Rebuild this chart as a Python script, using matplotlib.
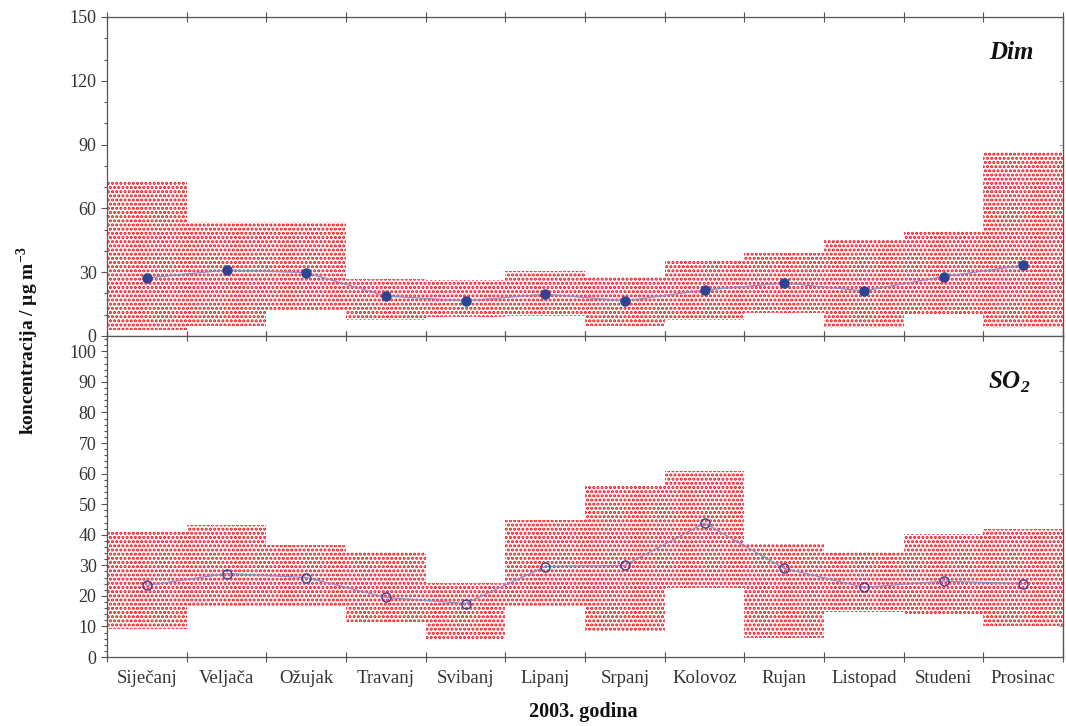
import numpy as np
import matplotlib
matplotlib.use("Agg")
import matplotlib.pyplot as plt
from matplotlib.ticker import MultipleLocator, FixedLocator, NullFormatter

plt.rcParams['font.family'] = ['Liberation Serif', 'DejaVu Serif']
plt.rcParams['mathtext.fontset'] = 'custom'
plt.rcParams['mathtext.rm'] = 'Liberation Serif'
plt.rcParams['hatch.color'] = '#e50f19'
plt.rcParams['hatch.linewidth'] = 1.5

months = ['Siječanj', 'Veljača', 'Ožujak', 'Travanj', 'Svibanj', 'Lipanj',
          'Srpanj', 'Kolovoz', 'Rujan', 'Listopad', 'Studeni', 'Prosinac']

# dim (smoke): monthly mean, min and max
dim_mean = [27.3, 31.0, 29.8, 18.8, 16.5, 19.7, 16.5, 21.6, 24.9, 21.2, 27.9, 33.2]
dim_min = [2.8, 4.7, 12.2, 7.5, 8.9, 9.4, 4.7, 7.5, 10.8, 3.8, 9.9, 3.8]
dim_max = [72.9, 53.6, 53.6, 27.0, 26.3, 30.6, 27.7, 35.7, 39.0, 45.6, 48.9, 86.3]

# SO2: monthly mean, min and max
so2_mean = [23.4, 27.3, 26.0, 19.5, 17.5, 29.6, 30.0, 43.8, 29.0, 22.8, 24.8, 24.0]
so2_min = [9.3, 16.4, 16.4, 11.3, 5.8, 16.2, 8.4, 22.5, 6.3, 14.7, 13.9, 10.2]
so2_max = [41.0, 43.3, 36.8, 34.2, 24.1, 44.8, 56.3, 60.9, 37.0, 34.2, 40.2, 41.9]

red = '#e50f19'
line_col = '#8c8cc8'
dot_col = '#2b4593'
spine_col = '#555555'
txt_col = '#333333'

fig = plt.figure(figsize=(10.66, 7.26), dpi=100)
ax1 = fig.add_axes([0.1004, 0.5372, 0.8968, 0.4394])
ax2 = fig.add_axes([0.1004, 0.0950, 0.8968, 0.4422])

x = np.arange(12) + 0.5


def draw_panel(ax, mean, lo, hi, filled):
    lo = np.array(lo)
    hi = np.array(hi)
    ax.bar(x, hi - lo, bottom=lo, width=1.0, facecolor='white',
           edgecolor=red, linewidth=0, hatch='....', zorder=1)
    ax.plot(x, mean, color=line_col, linewidth=0.9, zorder=2)
    if filled:
        ax.plot(x, mean, 'o', color=dot_col, markersize=6.5, zorder=3)
    else:
        ax.plot(x, mean, 'o', markerfacecolor='none', markeredgecolor='#3a3f8c',
                markeredgewidth=1.0, markersize=6.5, zorder=3)
    ax.set_xlim(0, 12)
    ax.xaxis.set_major_locator(FixedLocator(np.arange(13)))
    ax.xaxis.set_major_formatter(NullFormatter())
    ax.tick_params(axis='x', which='major', direction='inout', length=7,
                   width=0.8, color=spine_col, top=True)
    ax.tick_params(axis='y', which='both', direction='out', color=spine_col,
                   labelcolor=txt_col, labelsize=13, width=0.8)
    ax.tick_params(axis='y', which='major', length=4)
    ax.tick_params(axis='y', which='minor', length=2.5)
    # small inward ticks along the right edge
    ry = ax.secondary_yaxis('right')
    ry.set_yticks(ax.get_yticks())
    ry.tick_params(direction='in', length=3, width=0.7, color='#999999',
                   labelright=False)
    ry.spines['right'].set_color(spine_col)
    for s in ax.spines.values():
        s.set_color(spine_col)
        s.set_linewidth(0.9)


ax1.set_ylim(0, 150)
ax1.yaxis.set_major_locator(MultipleLocator(30))
ax1.yaxis.set_minor_locator(MultipleLocator(10))
draw_panel(ax1, dim_mean, dim_min, dim_max, True)
ax1.set_ylim(0, 150)
ax1.text(0.969, 0.89, 'Dim', transform=ax1.transAxes, ha='right', va='center',
         fontsize=18, fontweight='bold', fontstyle='italic', color='#111111')

ax2.set_ylim(0, 105)
ax2.set_yticks(np.arange(0, 101, 10))
ax2.yaxis.set_minor_locator(MultipleLocator(2))
draw_panel(ax2, so2_mean, so2_min, so2_max, False)
ax2.set_ylim(0, 105)
ax2.text(0.966, 0.855, r'SO$_\mathregular{2}$', transform=ax2.transAxes,
         ha='right', va='center', fontsize=18, fontweight='bold',
         fontstyle='italic', color='#111111')

# month names centred between the boundary ticks
ax2.set_xticks(x, months, minor=True)
ax2.tick_params(axis='x', which='minor', length=0, pad=9, labelsize=13.5,
                labelcolor=txt_col)

fig.text(0.026, 0.530, r'koncentracija / µg m$^\mathregular{-3}$', rotation=90,
         ha='center', va='center', fontsize=14, fontweight='bold',
         color='#111111')
fig.text(0.547, 0.019, '2003. godina', ha='center', va='center',
         fontsize=14.5, fontweight='bold', color='#111111')

fig.savefig('out.png', dpi=100)
